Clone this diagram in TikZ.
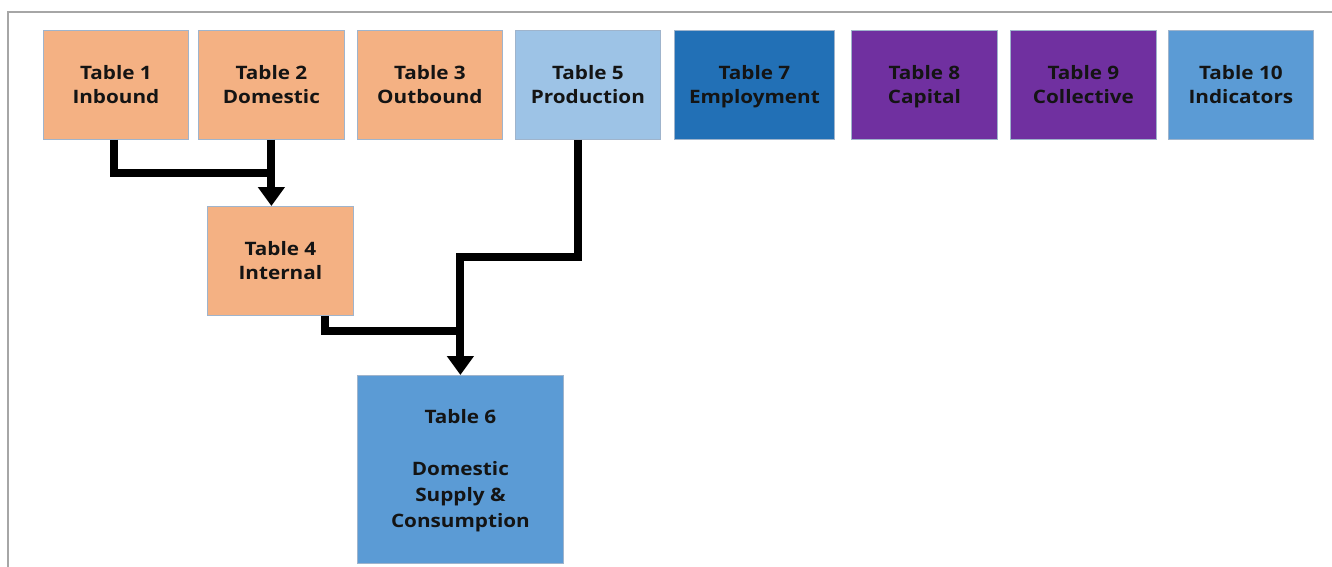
\documentclass[tikz,border=0pt]{standalone}
\usepackage{fontspec}
\setmainfont[FakeStretch=1.12]{Open Sans}
\usetikzlibrary{arrows.meta}
\definecolor{orangebox}{HTML}{F4B183}
\definecolor{lightbluebox}{HTML}{9DC3E6}
\definecolor{midbluebox}{HTML}{2270B6}
\definecolor{purplebox}{HTML}{7030A0}
\definecolor{bluebox}{HTML}{5B9BD5}
\definecolor{boxedge}{HTML}{9FB4CC}
\definecolor{textdark}{HTML}{141414}
\definecolor{framegray}{HTML}{A6A6A6}
\tikzset{
  tbox/.style={draw=boxedge, line width=0.8pt, inner sep=0pt, anchor=north west,
    align=center, text=textdark, font=\bfseries\fontsize{18.5}{24}\selectfont,
    execute at end node=\strut},
  topstrut/.style={execute at begin node=\rule{0pt}{#1}},
  flow/.style={line width=8pt, line join=miter, black},
  flowarrow/.style={flow, -{Triangle[width=26pt,length=19pt]}}
}
\begin{document}
\begin{tikzpicture}[x=1pt,y=-1pt]
\useasboundingbox (0,0) rectangle (1332,567);
\fill[white] (0,0) rectangle (1332,567);
\draw[framegray, line width=2pt] (1345,12) -- (8,12) -- (8,580);
% top row
\node[tbox, topstrut=44pt, fill=orangebox, minimum width=145pt, minimum height=109pt] (t1) at (43,30) {Table 1\\Inbound};
\node[tbox, topstrut=44pt, fill=orangebox, minimum width=146pt, minimum height=109pt] (t2) at (198,30) {Table 2\\Domestic};
\node[tbox, topstrut=44pt, fill=orangebox, minimum width=145pt, minimum height=109pt] (t3) at (357,30) {Table 3\\Outbound};
\node[tbox, topstrut=44pt, fill=lightbluebox, minimum width=145pt, minimum height=109pt] (t5) at (515,30) {Table 5\\Production};
\node[tbox, topstrut=44pt, fill=midbluebox, minimum width=160pt, minimum height=109pt] (t7) at (674,30) {Table 7\\Employment};
\node[tbox, topstrut=44pt, fill=purplebox, minimum width=146pt, minimum height=109pt] (t8) at (851,30) {Table 8\\Capital};
\node[tbox, topstrut=44pt, fill=purplebox, minimum width=146pt, minimum height=109pt] (t9) at (1010,30) {Table 9\\Collective};
\node[tbox, topstrut=44pt, fill=bluebox, minimum width=145pt, minimum height=109pt] (t10) at (1168,30) {Table 10\\Indicators};
% lower boxes
\node[tbox, topstrut=44pt, fill=orangebox, minimum width=146pt, minimum height=109pt] (t4) at (207,206) {Table 4\\Internal};
\node[tbox, topstrut=124pt, fill=bluebox, minimum width=206pt, minimum height=188pt, font=\bfseries\fontsize{18.5}{26}\selectfont] (t6) at (357,375) {Table 6\\[26pt]Domestic\\Supply \&\\Consumption};
% junction coordinates
\coordinate (s1) at ([xshift=-1.5pt]t1.south);
\coordinate (j1) at (t2.south |- 0,173);
\coordinate (s5) at ([xshift=-9.5pt]t5.south);
\coordinate (s4) at ([xshift=45pt]t4.south);
\coordinate (j5) at (t6.north |- 0,257);
\coordinate (j4) at (t6.north |- 0,331);
% connectors
\draw[flow] (s1) |- (j1);
\draw[flowarrow] (t2.south) -- (t2.south |- t4.north);
\draw[flow] (s5) |- (j5) -- (j4);
\draw[flow] (s4) |- (j4);
\draw[flowarrow] (j5) -- (t6.north);
\end{tikzpicture}
\end{document}
